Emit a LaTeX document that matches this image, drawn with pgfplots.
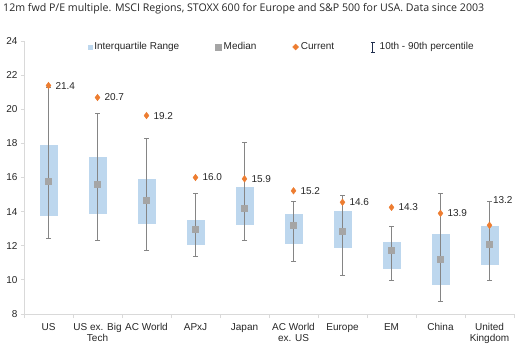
\documentclass[border=0pt]{standalone}
\usepackage{fontspec}
\setmainfont{Liberation Sans}
\newfontfamily\titlefont{Open Sans}
\usepackage{pgfplots}
\pgfplotsset{compat=1.18}
\usepackage{pgfplotstable}

\definecolor{iqr}{HTML}{BDD7EE}
\definecolor{med}{HTML}{A5A5A5}
\definecolor{wh}{HTML}{858585}
\definecolor{cur}{HTML}{ED7D31}
\definecolor{axgray}{HTML}{D9D9D9}
\definecolor{txt}{HTML}{262626}
\definecolor{navy}{HTML}{1F2D4D}

\pgfplotstableread{
x lo q1 med q3 hi cur lab
0 12.43 13.76 15.80 17.88 21.30 21.39 21.4
1 12.31 13.84 15.59 17.22 19.78 20.69 20.7
2 11.73 13.29 14.69 15.94 18.29 19.63 19.2
3 11.35 12.04 12.98 13.53 15.04 16.00 16.0
4 12.31 13.24 14.18 15.47 18.04 15.92 15.9
5 11.08 12.10 13.18 13.88 14.59 15.22 15.2
6 10.29 11.88 12.86 14.04 14.98 14.55 14.6
7 9.94 10.61 11.73 12.24 13.14 14.25 14.3
8 8.76 9.71 11.22 12.69 15.08 13.90 13.9
9 9.94 10.90 12.10 13.16 14.57 13.20 13.2
}\data

\newcommand{\cf}{\fontsize{10}{11}\selectfont}

\begin{document}
\begin{tikzpicture}
\path[use as bounding box] (-24pt,-36pt) rectangle (497pt,314pt);
\begin{axis}[
  name=ax,
  at={(0,0)}, anchor=south west,
  scale only axis, width=490pt, height=273pt,
  xmin=-0.5, xmax=9.5, ymin=8, ymax=24,
  ytick={8,10,...,24},
  xtick={0,...,9},
  xticklabels={US, US ex. Big\\Tech, AC World, APxJ, Japan, AC World\\ex. US, Europe, EM, China, United\\Kingdom},
  xticklabel style={align=center, font=\cf, text=txt, yshift=-3pt},
  yticklabel style={font=\cf, text=txt},
  minor xtick={-0.5,0.5,...,9.5},
  axis x line*=bottom, axis y line*=left,
  axis line style={axgray, line width=0.8pt},
  tick style={axgray, line width=0.8pt},
  major x tick style={draw=none},
  tick align=outside,
  major tick length=3pt, minor tick length=4pt,
  /pgf/number format/assume math mode=true,
  clip=false,
  legend columns=4,
  legend style={draw=none, fill=none, at={(axis description cs:0.125,0.978)}, anchor=west, font=\cf, text=txt,
    /tikz/every even column/.append style={column sep=34pt}},
]
% legend images
\addlegendimage{legend image code/.code={\fill[iqr] (0pt,-1.7pt) rectangle (3.4pt,1.7pt);}}
\addlegendentry{Interquartile Range}
\addlegendimage{legend image code/.code={\fill[med] (0pt,-3pt) rectangle (6pt,3pt);}}
\addlegendentry{Median}
\addlegendimage{legend image code/.code={\fill[cur] (3pt,-3pt) -- (6pt,0pt) -- (3pt,3pt) -- (0pt,0pt) -- cycle;}}
\addlegendentry{Current}
\addlegendimage{legend image code/.code={\path[draw=none,fill=none] (0pt,0pt) rectangle (7pt,0.1pt); \draw[navy, line width=1pt] (2pt,-5pt) -- (2pt,5pt) (0pt,-5pt) -- (4pt,-5pt) (0pt,5pt) -- (4pt,5pt);}}
\addlegendentry{10th - 90th percentile}

% IQR boxes
\addplot[only marks, mark=none, forget plot,
  error bars/.cd, y dir=both, y explicit, error mark=none,
  error bar style={line width=18pt, color=iqr}]
  table[x=x, y=med, y error plus expr=\thisrow{q3}-\thisrow{med}, y error minus expr=\thisrow{med}-\thisrow{q1}] {\data};
% whiskers
\addplot[only marks, mark=none, forget plot,
  error bars/.cd, y dir=both, y explicit, error mark=-,
  error mark options={rotate=90, wh, mark size=2.5pt, line width=0.8pt},
  error bar style={line width=1.2pt, color=wh}]
  table[x=x, y=med, y error plus expr=\thisrow{hi}-\thisrow{med}, y error minus expr=\thisrow{med}-\thisrow{lo}] {\data};
% medians
\addplot[only marks, mark=square*, mark size=3pt, color=med, forget plot]
  table[x=x, y=med] {\data};
% current
\addplot[only marks, mark=diamond*, mark size=3.3pt, color=cur, forget plot,
  point meta=explicit symbolic, nodes near coords,
  nodes near coords style={anchor=west, xshift=3.5pt, text=txt, font=\cf},
  skip coords between index={9}{10}]
  table[x=x, y=cur, meta=lab] {\data};
\addplot[only marks, mark=diamond*, mark size=3.3pt, color=cur, forget plot,
  point meta=explicit symbolic, nodes near coords,
  nodes near coords style={anchor=south west, xshift=0pt, yshift=18pt, text=txt, font=\cf}]
  coordinates {(9,13.20) [13.2]};
\end{axis}
\node[anchor=base west, inner sep=0pt, text=txt, font=\titlefont\fontsize{10.6}{12}\selectfont]
  at ([xshift=-21pt,yshift=29.5pt]ax.north west)
  {12m fwd P/E multiple. MSCI Regions, STOXX 600 for Europe and S\&P 500 for USA. Data since 2003};
\end{tikzpicture}
\end{document}
